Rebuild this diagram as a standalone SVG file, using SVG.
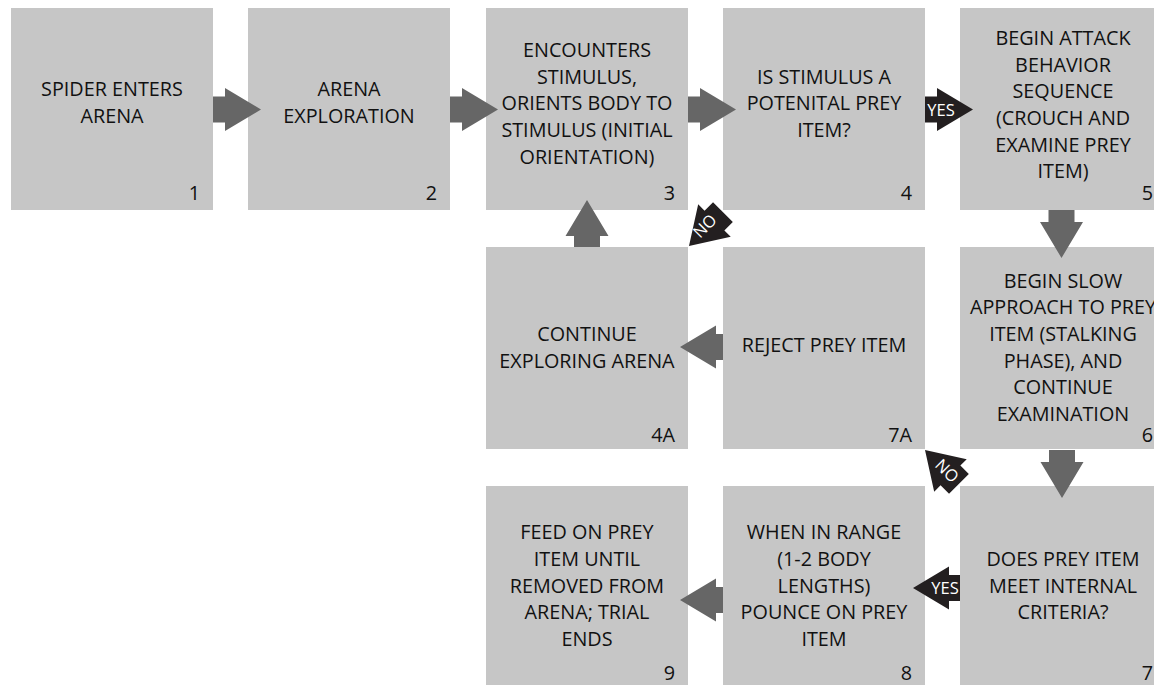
<svg xmlns="http://www.w3.org/2000/svg" width="1154" height="685" viewBox="0 0 1154 685">
<style>
.box{fill:#c6c6c6}
.t{font-family:"Open Sans","Liberation Sans",sans-serif;font-size:19.8px;fill:#111111;text-anchor:middle}
.n{font-family:"Open Sans","Liberation Sans",sans-serif;font-size:19.8px;fill:#111111;text-anchor:end}
.ga{fill:#666666}
.ba{fill:#231f20}
.lb{font-family:"Open Sans","Liberation Sans",sans-serif;font-size:16.5px;fill:#ffffff;text-anchor:middle}
</style>
<rect width="1154" height="685" fill="#ffffff"/>
<g id="node1"><rect class="box" x="11" y="8" width="202" height="202"/>
<text class="t" x="112" y="96">SPIDER ENTERS</text><text class="t" x="112" y="123">ARENA</text><text class="n" x="200" y="200">1</text></g>
<g id="node2"><rect class="box" x="248" y="8" width="202" height="202"/>
<text class="t" x="349" y="96">ARENA</text><text class="t" x="349" y="123">EXPLORATION</text><text class="n" x="437" y="200">2</text></g>
<g id="node3"><rect class="box" x="486" y="8" width="202" height="202"/>
<text class="t" x="587" y="57">ENCOUNTERS</text><text class="t" x="587" y="83.5">STIMULUS,</text><text class="t" x="587" y="110">ORIENTS BODY TO</text><text class="t" x="587" y="137">STIMULUS (INITIAL</text><text class="t" x="587" y="164">ORIENTATION)</text><text class="n" x="675" y="200">3</text></g>
<g id="node4"><rect class="box" x="723" y="8" width="202" height="202"/>
<text class="t" x="824" y="83.5">IS STIMULUS A</text><text class="t" x="824" y="110">POTENITAL PREY</text><text class="t" x="824" y="137">ITEM?</text><text class="n" x="912" y="200">4</text></g>
<g id="node5"><rect class="box" x="960" y="8" width="202" height="202"/>
<text class="t" x="1063" y="45">BEGIN ATTACK</text><text class="t" x="1063" y="71.5">BEHAVIOR</text><text class="t" x="1063" y="98">SEQUENCE</text><text class="t" x="1063" y="125">(CROUCH AND</text><text class="t" x="1063" y="152">EXAMINE PREY</text><text class="t" x="1063" y="178">ITEM)</text><text class="n" x="1153" y="200">5</text></g>
<g id="node4A"><rect class="box" x="486" y="247" width="202" height="202"/>
<text class="t" x="587" y="341">CONTINUE</text><text class="t" x="587" y="368">EXPLORING ARENA</text><text class="n" x="675" y="442">4A</text></g>
<g id="node7A"><rect class="box" x="723" y="247" width="202" height="202"/>
<text class="t" x="824" y="352">REJECT PREY ITEM</text><text class="n" x="912" y="442">7A</text></g>
<g id="node6"><rect class="box" x="960" y="247" width="202" height="202"/>
<text class="t" x="1063" y="288">BEGIN SLOW</text><text class="t" x="1063" y="314">APPROACH TO PREY</text><text class="t" x="1063" y="341">ITEM (STALKING</text><text class="t" x="1063" y="368">PHASE), AND</text><text class="t" x="1063" y="394">CONTINUE</text><text class="t" x="1063" y="421">EXAMINATION</text><text class="n" x="1153" y="442">6</text></g>
<g id="node9"><rect class="box" x="486" y="486" width="202" height="202"/>
<text class="t" x="587" y="539">FEED ON PREY</text><text class="t" x="587" y="566">ITEM UNTIL</text><text class="t" x="587" y="593">REMOVED FROM</text><text class="t" x="587" y="619">ARENA; TRIAL</text><text class="t" x="587" y="646">ENDS</text><text class="n" x="675" y="680">9</text></g>
<g id="node8"><rect class="box" x="723" y="486" width="202" height="202"/>
<text class="t" x="824" y="539">WHEN IN RANGE</text><text class="t" x="824" y="566">(1-2 BODY</text><text class="t" x="824" y="593">LENGTHS)</text><text class="t" x="824" y="619">POUNCE ON PREY</text><text class="t" x="824" y="646">ITEM</text><text class="n" x="912" y="680">8</text></g>
<g id="node7"><rect class="box" x="960" y="486" width="202" height="202"/>
<text class="t" x="1063" y="566">DOES PREY ITEM</text><text class="t" x="1063" y="593">MEET INTERNAL</text><text class="t" x="1063" y="619">CRITERIA?</text><text class="n" x="1153" y="680">7</text></g>
<g id="connectors">
<polygon class="ga" points="213,96.5 225,96.5 225,88 261,109.5 225,131 225,122.5 213,122.5"/>
<polygon class="ga" points="450,96.5 462,96.5 462,88 498,109.5 462,131 462,122.5 450,122.5"/>
<polygon class="ga" points="688,96.5 700,96.5 700,88 736,109.5 700,131 700,122.5 688,122.5"/>
<polygon class="ba" points="925,96.5 937,96.5 937,88 973,109.5 937,131 937,122.5 925,122.5"/>
<text class="lb" x="941" y="115.5">YES</text>
<polygon class="ga" points="1048.5,210 1048.5,222 1040,222 1061.5,258 1083,222 1074.5,222 1074.5,210"/>
<polygon class="ga" points="1049,450 1049,462 1040.5,462 1062,498 1083.5,462 1075,462 1075,450"/>
<polygon class="ga" points="574,247 574,236 565.5,236 587,200 608.5,236 600,236 600,247"/>
<polygon class="ga" points="723,334 716,334 716,325.5 680,347 716,368.5 716,360 723,360"/>
<polygon class="ga" points="723,587 716,587 716,578.5 680,600 716,621.5 716,613 723,613"/>
<polygon class="ba" points="960,575 949,575 949,566.5 913,588 949,609.5 949,601 960,601"/>
<text class="lb" x="945" y="594">YES</text>
<polygon class="ba" transform="translate(689,246) rotate(135)" points="-48,-14 -36,-14 -36,-23 0,0 -36,23 -36,14 -48,14"/>
<text class="lb" x="0" y="0" transform="translate(709,230) rotate(-45)">NO</text>
<polygon class="ba" transform="translate(925,450) rotate(225)" points="-48,-14 -36,-14 -36,-23 0,0 -36,23 -36,14 -48,14"/>
<text class="lb" x="0" y="0" transform="translate(943,475) rotate(45)">NO</text>
</g>
</svg>
